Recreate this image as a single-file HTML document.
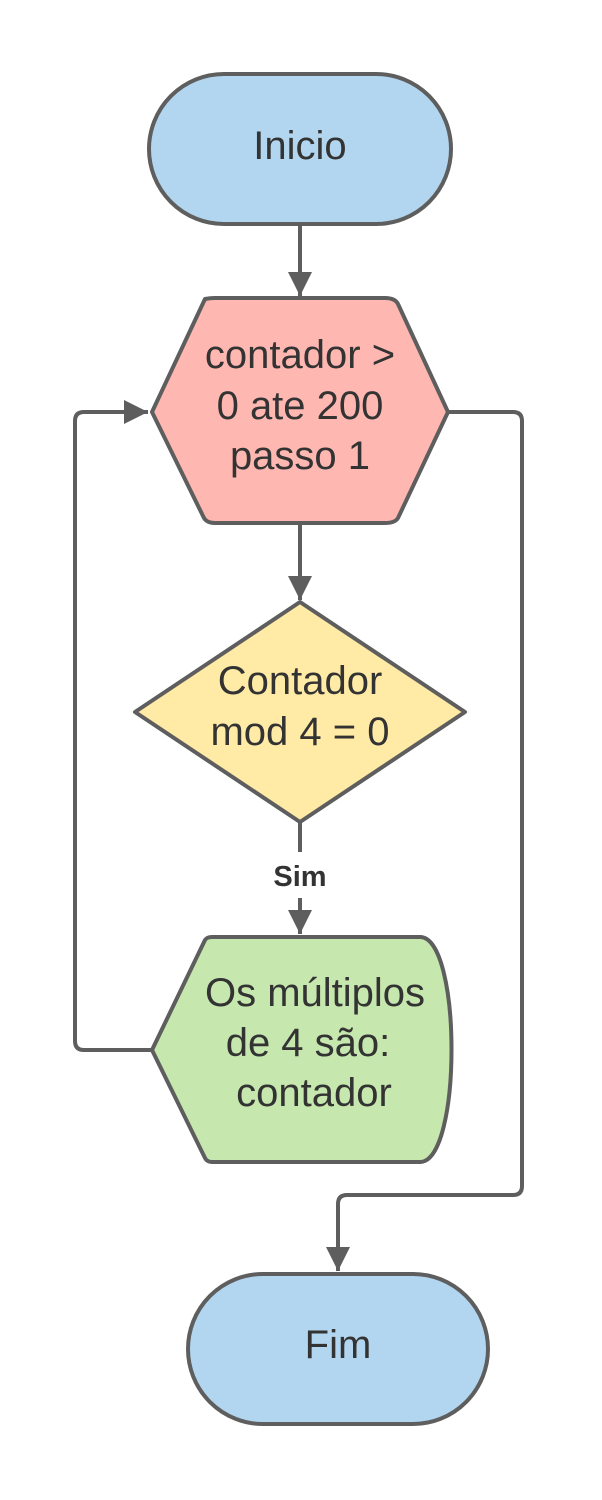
<!DOCTYPE html>
<html><head><meta charset="utf-8"><style>
html,body{margin:0;padding:0;background:#fff}
svg{display:block}
text{font-family:"Liberation Sans",sans-serif;fill:#333;text-anchor:middle}
</style></head><body>
<svg width="602" height="1500" viewBox="0 0 602 1500" xmlns="http://www.w3.org/2000/svg">
<defs>
<marker id="b" markerWidth="24" markerHeight="34" refX="24" refY="12" orient="auto" markerUnits="userSpaceOnUse"><path d="M0,0 L24,12 L0,24 z" fill="#5e5e5e"/></marker></defs>
<g stroke="#5e5e5e" stroke-width="4" fill="none">
<path d="M300,225 V296" marker-end="url(#b)"/>
<path d="M300,523 V600" marker-end="url(#b)"/>
<path d="M300,822 V852"/>
<path d="M300,898 V934" marker-end="url(#b)"/>
<path d="M152,1050 H84 Q75,1050 75,1041 V421 Q75,412 84,412 H148" marker-end="url(#b)"/>
<path d="M448,412 H513 Q522,412 522,421 V1186 Q522,1195 513,1195 H347 Q338,1195 338,1204 V1271" marker-end="url(#b)"/>
</g>
<g stroke="#5e5e5e" stroke-width="4" stroke-linejoin="round">
<rect x="149" y="74" width="302" height="150" rx="75" fill="#b2d6ef"/>
<path d="M152,412 L205,299 Q210,298 215,298 L385,298 Q395,298 398,304 L448,412 L398,518 Q395,523 385,523 L215,523 Q207,523 204,518 Z" fill="#ffb8b1"/>
<path d="M300,602 L465,712 L300,822 L135,712 Z" fill="#ffeaa6"/>
<path d="M152,1050 L205,940 Q207,937 212,937 L420,937 C462,937 462,1162 420,1162 L212,1162 Q207,1162 205,1158 Z" fill="#c6e7ae"/>
<rect x="188" y="1274" width="300" height="150" rx="75" fill="#b2d6ef"/>
</g>
<g font-size="40">
<text x="300" y="159">Inicio</text>
<text x="300" y="368">contador &gt;</text>
<text x="300" y="419">0 ate 200</text>
<text x="300" y="469">passo 1</text>
<text x="300" y="694">Contador</text>
<text x="300" y="745">mod 4 = 0</text>
<text x="315" y="1006">Os múltiplos</text>
<text x="308" y="1056">de 4 são:</text>
<text x="314" y="1106">contador</text>
<text x="338" y="1358">Fim</text>
</g>
<text x="300" y="886" font-size="29" font-weight="bold">Sim</text>
</svg>
</body></html>
